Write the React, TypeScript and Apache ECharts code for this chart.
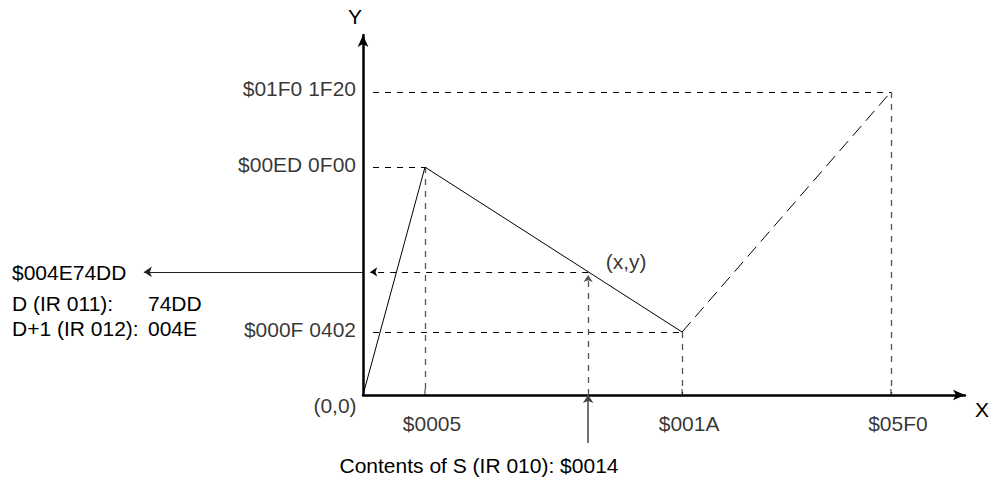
import React, { useEffect, useRef } from "react";
import * as echarts from "echarts";

// Schematic diagram coordinates (abstract units, x: 0..100, y: 0..100)
const xTickLabels = ["$0005", "$001A", "$05F0"];
const xTickPos = [10.3, 53.0, 87.7];
const yTickLabels = ["$00ED 0F00", "$000F 0402", "$01F0 1F20"];
const yTickPos = [63.3, 17.5, 84.2];
const solidSegment = [
  [0, 0],
  [10.3, 63.3],
  [53.0, 17.5],
];
const dashedSegment = [
  [53.0, 17.5],
  [87.7, 84.2],
];
const pointXY = [37.4, 34.2];
const pointLabel = "(x,y)";
const originLabel = "(0,0)";
const resultArrowEndX = -36.4;
const inputArrowStartY = -13.3;
const guideStartX = 1.66;

const resultText = "$004E74DD";
const leftRows = [
  ["D (IR 011):", "74DD"],
  ["D+1 (IR 012):", "004E"],
];
const inputText = "Contents of S (IR 010): $0014";

const FONT = "'Liberation Sans', Arial, Helvetica, sans-serif";
const FS = 21;

export default function App() {
  const ref = useRef<HTMLDivElement>(null);
  useEffect(() => {
    if (!ref.current) return;
    const chart = echarts.init(ref.current, undefined, { renderer: "svg" });

    const hGuides = yTickPos.map((y, i) => ({
      coords: [
        [guideStartX, y],
        [i === 0 ? solidSegment[1][0] : i === 1 ? solidSegment[2][0] : dashedSegment[1][0], y],
      ],
    }));
    const vGuides = xTickPos.map((x, i) => ({
      coords: [
        [x, i === 0 ? solidSegment[1][1] : i === 1 ? solidSegment[2][1] : dashedSegment[1][1]],
        [x, 0],
      ],
    }));

    const textStyle = { fontFamily: FONT, fontSize: FS, color: "#000" };

    const option: any = {
      animation: false,
      grid: { left: 363, top: 35, width: 604, height: 360, containLabel: false },
      xAxis: {
        type: "value",
        min: 0,
        max: 100,
        name: "X",
        nameLocation: "end",
        nameGap: 10,
        nameTextStyle: { ...textStyle, verticalAlign: "top", padding: [4, 0, 0, 0] },
        axisLine: {
          show: true,
          symbol: ["none", "arrow"],
          symbolSize: [8, 12],
          lineStyle: { color: "#000", width: 2.5 },
        },
        axisTick: { show: false },
        axisLabel: { show: false },
        splitLine: { show: false },
      },
      yAxis: {
        type: "value",
        min: 0,
        max: 100,
        name: "Y",
        nameLocation: "end",
        nameGap: 8,
        nameTextStyle: { ...textStyle, padding: [0, 16, 0, 0] },
        axisLine: {
          show: true,
          symbol: ["none", "arrow"],
          symbolSize: [8, 12],
          lineStyle: { color: "#000", width: 2.5 },
        },
        axisTick: { show: false },
        axisLabel: { show: false },
        splitLine: { show: false },
      },
      series: [
        {
          type: "line",
          data: solidSegment,
          symbol: "none",
          clip: false,
          lineStyle: { color: "#000", width: 1 },
        },
        {
          type: "line",
          data: dashedSegment,
          symbol: "none",
          clip: false,
          lineStyle: { color: "#000", width: 1, type: [13, 7] },
        },
        {
          type: "lines",
          coordinateSystem: "cartesian2d",
          clip: false,
          symbol: "none",
          lineStyle: { color: "#000", width: 1, type: [6, 6], opacity: 1 },
          data: hGuides,
        },
        {
          type: "lines",
          coordinateSystem: "cartesian2d",
          clip: false,
          symbol: "none",
          lineStyle: { color: "#555", width: 1.3, type: [6, 6], opacity: 1 },
          data: vGuides,
        },
        // (x,y) horizontal dashed to Y axis with arrow
        {
          type: "lines",
          coordinateSystem: "cartesian2d",
          clip: false,
          symbol: ["none", "arrow"],
          symbolSize: 7,
          lineStyle: { color: "#000", width: 1, type: [6, 6], opacity: 1 },
          data: [{ coords: [pointXY, [1.2, pointXY[1]]] }],
        },
        // vertical dashed from X axis up to (x,y) with arrow
        {
          type: "lines",
          coordinateSystem: "cartesian2d",
          clip: false,
          symbol: ["none", "arrow"],
          symbolSize: 7,
          lineStyle: { color: "#555", width: 1.3, type: [6, 6], opacity: 1 },
          data: [{ coords: [[pointXY[0], 0], [pointXY[0], pointXY[1] - 0.9]] }],
        },
        // result arrow to the left
        {
          type: "lines",
          coordinateSystem: "cartesian2d",
          clip: false,
          symbol: ["none", "arrow"],
          symbolSize: 8,
          lineStyle: { color: "#222", width: 1, type: "solid", opacity: 1 },
          data: [{ coords: [[0, pointXY[1]], [resultArrowEndX, pointXY[1]]] }],
        },
        // input arrow from below
        {
          type: "lines",
          coordinateSystem: "cartesian2d",
          clip: false,
          symbol: ["none", "arrow"],
          symbolSize: 8,
          lineStyle: { color: "#444", width: 1.5, type: "solid", opacity: 1 },
          data: [{ coords: [[pointXY[0], inputArrowStartY], [pointXY[0], 0]] }],
        },
        // X ticks
        {
          type: "scatter",
          clip: false,
          symbol: "rect",
          symbolSize: [1, 6],
          symbolOffset: [0, -3],
          itemStyle: { color: "#000" },
          data: xTickPos.map((x) => [x, 0]),
        },
        // X tick labels
        {
          type: "scatter",
          clip: false,
          symbolSize: 1,
          itemStyle: { color: "transparent" },
          label: {
            show: true,
            position: "inside",
            offset: [7, 28],
            align: "center",
            verticalAlign: "middle",
            ...textStyle,
            formatter: (p: any) => p.value[2],
          },
          data: xTickPos.map((x, i) => [x, 0, xTickLabels[i]]),
        },
        // Y labels
        {
          type: "scatter",
          clip: false,
          symbolSize: 1,
          itemStyle: { color: "transparent" },
          label: {
            show: true,
            position: "inside",
            offset: [-7, -3],
            align: "right",
            verticalAlign: "middle",
            ...textStyle,
            formatter: (p: any) => p.value[2],
          },
          data: yTickPos.map((y, i) => [0, y, yTickLabels[i]]),
        },
        // origin and point labels
        {
          type: "scatter",
          clip: false,
          symbolSize: 1,
          itemStyle: { color: "transparent" },
          label: {
            show: true,
            position: "inside",
            align: "center",
            verticalAlign: "middle",
            ...textStyle,
            formatter: (p: any) => p.value[2],
          },
          data: [
            { value: [0, 0, originLabel], label: { offset: [-28, 10] } },
            { value: [pointXY[0], pointXY[1], pointLabel], label: { offset: [38, -10] } },
          ],
        },
      ],
      graphic: [
        {
          type: "text",
          x: 12,
          y: 272,
          style: { text: resultText, font: `${FS}px ${FONT}`, fill: "#000", align: "left", verticalAlign: "middle" },
        },
        ...leftRows.flatMap((row, i) => [
          {
            type: "text",
            x: 12,
            y: 303 + i * 25,
            style: { text: row[0], font: `${FS}px ${FONT}`, fill: "#000", align: "left", verticalAlign: "middle" },
          },
          {
            type: "text",
            x: 148,
            y: 303 + i * 25,
            style: { text: row[1], font: `${FS}px ${FONT}`, fill: "#000", align: "left", verticalAlign: "middle" },
          },
        ]),
        {
          type: "text",
          x: 479,
          y: 465,
          style: { text: inputText, font: `${FS}px ${FONT}`, fill: "#000", align: "center", verticalAlign: "middle" },
        },
      ],
    };
    chart.setOption(option);
    return () => chart.dispose();
  }, []);
  return (
    <div
      ref={ref}
      style={{ position: "fixed", left: 0, top: 0, width: 992, height: 477, background: "#fff" }}
    />
  );
}
